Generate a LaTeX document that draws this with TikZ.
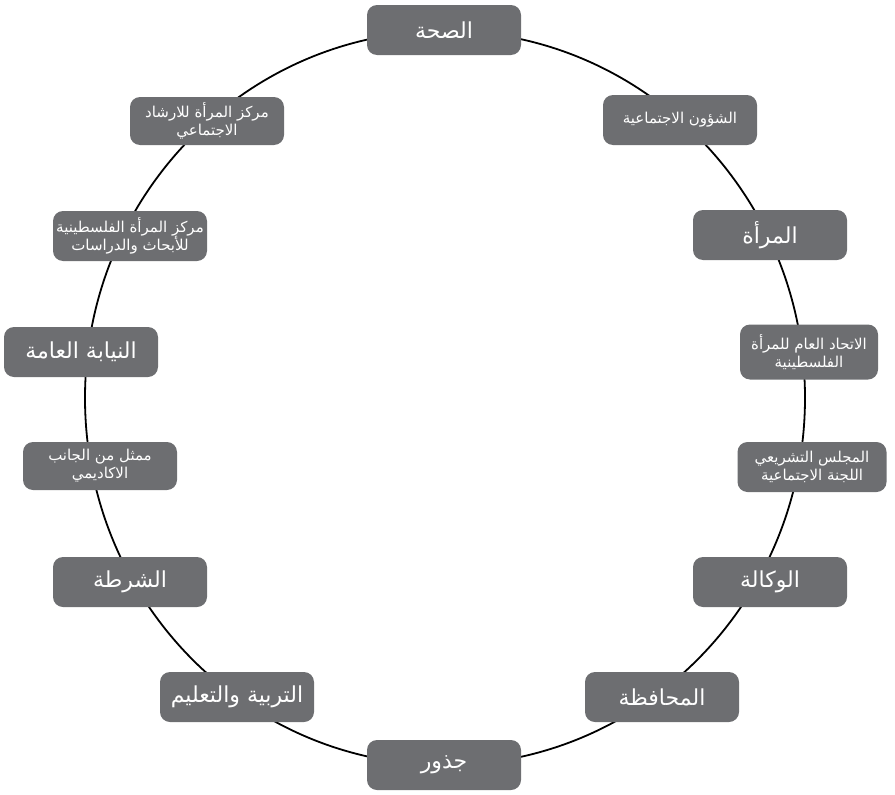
\documentclass[tikz,border=0pt]{standalone}
\usepackage{fontspec}
\newfontfamily\arabicfont[Script=Arabic]{DejaVu Sans}
\TeXXeTstate=1
\definecolor{boxgray}{RGB}{109,110,113}
\newcommand{\artext}[1]{\beginR #1\endR}

\begin{document}
\begin{tikzpicture}[x=1pt, y=-1pt,
  box/.style={fill=boxgray, rounded corners=10pt, text=white, minimum width=154pt, minimum height=50pt, align=center, inner sep=2pt, font=\arabicfont\fontsize{22}{25}\selectfont},
  smallbox/.style={box, font=\arabicfont\fontsize{15}{18}\selectfont}]
\useasboundingbox (0,0) rectangle (895,795);
\coordinate (mid) at (445,398);
\draw[line width=1.8pt] (mid) ellipse [x radius=360, y radius=367];

\node[box] (sehha) at (444,30) {\artext{الصحة}};
\node[smallbox] (shuun) at (680,120) {\artext{الشؤون الاجتماعية}};
\node[box] (marah) at (770,235) {\artext{المرأة}};
\node[smallbox, minimum width=138pt, minimum height=55pt] (ittihad) at (809,352) {\artext{الاتحاد العام للمرأة}\\\artext{الفلسطينية}};
\node[smallbox, minimum width=149pt] (majlis) at (812,467) {\artext{المجلس التشريعي}\\\artext{اللجنة الاجتماعية}};
\node[box] (wakala) at (770,582) {\artext{الوكالة}};
\node[box] (muhafaza) at (662,697) {\artext{المحافظة}};
\node[box] (judhur) at (444,765) {\artext{جذور}};
\node[box] (tarbiya) at (237,697) {\artext{التربية والتعليم}};
\node[box] (shurta) at (130,582) {\artext{الشرطة}};
\node[smallbox, minimum height=48pt] (mumaththil) at (100,466) {\artext{ممثل من الجانب}\\\artext{الاكاديمي}};
\node[box] (niyaba) at (81,352) {\artext{النيابة العامة}};
\node[smallbox] (markazfil) at (130,236) {\artext{مركز المرأة الفلسطينية}\\\artext{للأبحاث والدراسات}};
\node[smallbox, minimum height=48pt] (markazirshad) at (207,121) {\artext{مركز المرأة للارشاد}\\\artext{الاجتماعي}};

\end{tikzpicture}
\end{document}
